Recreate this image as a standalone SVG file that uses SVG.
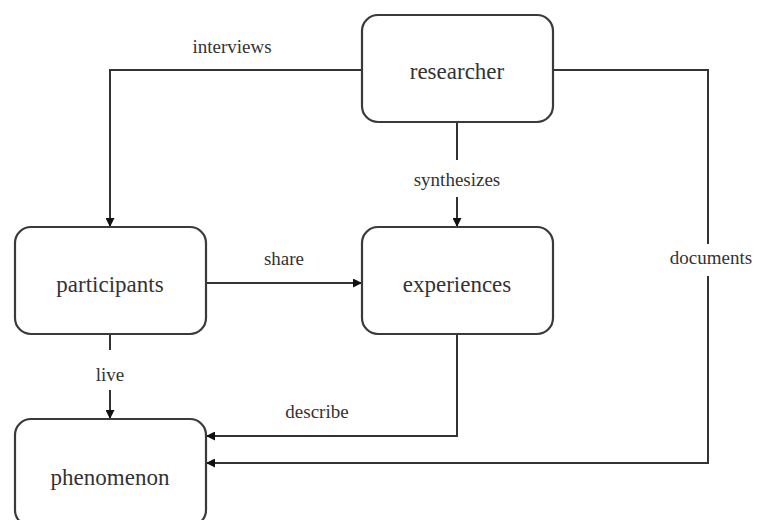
<svg xmlns="http://www.w3.org/2000/svg" width="761" height="520" viewBox="0 0 761 520">
  <defs>
    <marker id="arrow" viewBox="0 0 10 10" refX="10" refY="5" markerWidth="9" markerHeight="9" markerUnits="userSpaceOnUse" orient="auto">
      <path d="M0,0 L10,5 L0,10 z" fill="#111"/>
    </marker>
    <style>
      text { font-family: 'Liberation Serif', 'Times New Roman', Times, 'DejaVu Serif', 'Noto Serif', serif; }
      .node rect { fill: #fff; stroke: #3a3a3a; stroke-width: 2.2; }
      .node text { font-size: 23px; fill: #333; text-anchor: middle; }
      .edges path { fill: none; stroke: #333; stroke-width: 2; }
      .edges path.arr { marker-end: url(#arrow); }
      .label { font-size: 19px; fill: #333; text-anchor: middle; }
    </style>
  </defs>
  <rect width="761" height="520" fill="#fff"/>

  <g class="edges">
    <!-- researcher -> participants (interviews) -->
    <path class="arr" d="M362,70 H110 V227"/>
    <!-- researcher -> experiences (synthesizes) -->
    <path d="M457,122 V160"/>
    <path class="arr" d="M457,197 V227"/>
    <!-- researcher -> phenomenon (documents) -->
    <path d="M553,70 H708 V244"/>
    <path class="arr" d="M708,276 V463 H206"/>
    <!-- participants -> experiences (share) -->
    <path class="arr" d="M206,283 H362"/>
    <!-- participants -> phenomenon (live) -->
    <path d="M110,334 V350"/>
    <path class="arr" d="M110,390 V419"/>
    <!-- experiences -> phenomenon (describe) -->
    <path class="arr" d="M457,334 V436 H206"/>
  </g>

  <text class="label" x="232" y="53">interviews</text>
  <text class="label" x="457" y="186">synthesizes</text>
  <text class="label" x="711" y="264">documents</text>
  <text class="label" x="284" y="265">share</text>
  <text class="label" x="110" y="381">live</text>
  <text class="label" x="317" y="418">describe</text>

  <g id="researcher" class="node">
    <rect x="362" y="15" width="191" height="107" rx="16"/>
    <text x="457" y="79">researcher</text>
  </g>
  <g id="participants" class="node">
    <rect x="15" y="227" width="191" height="107" rx="16"/>
    <text x="110" y="292">participants</text>
  </g>
  <g id="experiences" class="node">
    <rect x="362" y="227" width="191" height="107" rx="16"/>
    <text x="457" y="292">experiences</text>
  </g>
  <g id="phenomenon" class="node">
    <rect x="15" y="419" width="191" height="107" rx="16"/>
    <text x="110" y="485">phenomenon</text>
  </g>
</svg>
